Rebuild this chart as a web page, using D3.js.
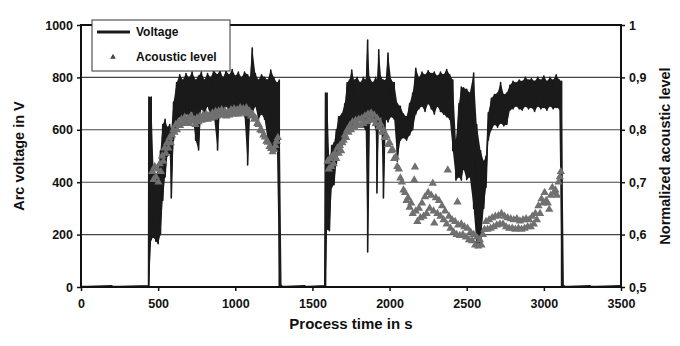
<!DOCTYPE html>
<html>
<head>
<meta charset="utf-8">
<script src="https://cdn.jsdelivr.net/npm/d3@7"></script>
<style>
    body { margin: 0; background: #ffffff; }
    svg { display: block; font-family: "Liberation Sans", Arial, sans-serif; font-weight: bold; }
</style>
</head>
<body>
<div id="chart-container"></div>
<script>
// tick values for the three axes
const TIME_TICKS = [0, 500, 1000, 1500, 2000, 2500, 3000, 3500];
const VOLTAGE_TICKS = [0, 200, 400, 600, 800, 1000];
const ACOUSTIC_TICKS = [0.5, 0.6, 0.7, 0.8, 0.9, 1];

// legend entries
const SERIES_NAMES = ["Voltage", "Acoustic level"];

// arc voltage: [time s, band max V, band min V]
const VOLTAGE_SAMPLES = [
    [0, 5, 0], [200, 5, 0], [438, 5, 0],
    [440, 725, 0], [455, 725, 180], [470, 450, 190], [485, 430, 175], [500, 440, 165],
    [515, 520, 200], [530, 620, 330], [545, 640, 420], [560, 610, 500], [575, 620, 510],
    [585, 600, 340], [600, 706, 560], [620, 780, 620], [640, 810, 650], [660, 790, 640],
    [680, 815, 660], [700, 800, 650], [720, 820, 670], [743, 790, 560], [762, 805, 523],
    [780, 820, 680], [800, 790, 660], [820, 815, 690], [840, 800, 650], [860, 825, 660],
    [885, 810, 523], [900, 830, 680], [920, 800, 660], [940, 825, 690], [960, 810, 670],
    [980, 830, 680], [1000, 805, 660], [1020, 820, 690], [1040, 800, 670], [1060, 820, 650],
    [1080, 810, 466], [1095, 800, 650], [1110, 912, 660], [1130, 815, 690], [1150, 790, 640],
    [1170, 810, 660], [1190, 800, 640], [1210, 790, 560], [1230, 828, 523], [1250, 800, 530],
    [1270, 780, 520], [1285, 790, 0],
    [1300, 5, 0], [1450, 5, 0], [1580, 5, 0],
    [1585, 740, 0], [1595, 740, 220], [1610, 470, 215], [1625, 540, 380], [1640, 550, 390],
    [1655, 600, 470], [1670, 650, 520], [1690, 660, 540], [1710, 700, 560], [1725, 780, 600],
    [1740, 790, 620], [1755, 828, 600], [1770, 790, 640], [1790, 800, 620], [1810, 780, 650],
    [1830, 800, 610], [1845, 790, 600], [1858, 943, 134], [1870, 800, 620], [1890, 780, 640],
    [1910, 800, 600], [1918, 790, 359], [1930, 905, 620], [1945, 800, 650], [1960, 790, 340],
    [1975, 790, 640], [1990, 893, 630], [2010, 790, 650], [2030, 780, 640], [2050, 700, 480],
    [2070, 690, 560], [2090, 660, 570], [2110, 650, 560], [2130, 700, 580], [2150, 740, 600],
    [2170, 835, 660], [2190, 800, 680], [2210, 820, 690], [2230, 810, 670], [2250, 825, 700],
    [2270, 815, 680], [2290, 820, 660], [2310, 805, 690], [2330, 820, 670], [2350, 810, 660],
    [2370, 830, 650], [2390, 810, 640], [2410, 790, 520], [2430, 560, 408], [2450, 700, 420],
    [2465, 763, 408], [2480, 760, 450], [2500, 755, 410], [2520, 740, 420], [2545, 817, 300],
    [2565, 620, 150], [2590, 520, 170], [2610, 480, 300], [2625, 500, 380], [2640, 665, 560],
    [2660, 720, 600], [2680, 735, 620], [2700, 740, 610], [2720, 780, 625], [2740, 735, 615],
    [2760, 740, 620], [2780, 770, 675], [2800, 785, 680], [2820, 780, 690], [2840, 790, 680],
    [2860, 785, 675], [2880, 800, 690], [2900, 790, 680], [2920, 795, 685], [2940, 785, 670],
    [2960, 800, 690], [2980, 790, 680], [3000, 805, 685], [3020, 785, 675], [3040, 800, 690],
    [3060, 790, 680], [3080, 810, 685], [3100, 790, 680], [3115, 785, 0],
    [3130, 5, 0], [3300, 5, 0], [3500, 5, 0],
];

// normalized acoustic level: [time s, level]
const ACOUSTIC_SAMPLES = [
    [462, 0.72], [470, 0.705], [478, 0.73], [486, 0.71], [494, 0.725], [502, 0.70], [510, 0.735],
    [518, 0.72], [526, 0.75], [534, 0.74], [542, 0.765], [550, 0.755], [558, 0.775], [566, 0.765],
    [574, 0.785], [582, 0.775], [590, 0.79], [598, 0.80], [606, 0.795], [614, 0.81], [622, 0.80],
    [632, 0.815], [642, 0.808], [652, 0.82], [662, 0.812], [672, 0.824], [682, 0.815], [692, 0.822],
    [702, 0.812], [712, 0.826], [722, 0.816], [732, 0.82], [742, 0.81], [752, 0.823], [762, 0.815],
    [772, 0.826], [782, 0.818], [792, 0.828], [802, 0.82], [812, 0.83], [822, 0.82], [832, 0.828],
    [842, 0.822], [852, 0.832], [862, 0.824], [872, 0.835], [882, 0.826], [892, 0.836], [902, 0.828],
    [912, 0.838], [922, 0.828], [932, 0.836], [942, 0.826], [952, 0.834], [962, 0.828], [972, 0.838],
    [982, 0.83], [992, 0.84], [1002, 0.83], [1012, 0.838], [1022, 0.83], [1032, 0.842], [1042, 0.832],
    [1052, 0.84], [1062, 0.834], [1072, 0.842], [1082, 0.83], [1092, 0.836], [1102, 0.826], [1112, 0.83],
    [1122, 0.82], [1132, 0.822], [1142, 0.812], [1152, 0.81], [1162, 0.80], [1172, 0.798], [1182, 0.79],
    [1192, 0.786], [1202, 0.778], [1212, 0.776], [1222, 0.768], [1232, 0.764], [1242, 0.758],
    [1252, 0.762], [1260, 0.77], [1268, 0.778], [1276, 0.785],
    [1598, 0.74], [1606, 0.725], [1614, 0.745], [1622, 0.73], [1630, 0.75], [1638, 0.735], [1646, 0.755],
    [1654, 0.745], [1662, 0.765], [1670, 0.755], [1678, 0.77], [1686, 0.76], [1694, 0.775], [1702, 0.78],
    [1710, 0.79], [1718, 0.785], [1726, 0.80], [1734, 0.795], [1742, 0.808], [1750, 0.80], [1760, 0.815],
    [1770, 0.806], [1780, 0.818], [1790, 0.81], [1800, 0.82], [1810, 0.808], [1820, 0.822], [1830, 0.812],
    [1840, 0.826], [1850, 0.815], [1860, 0.83], [1870, 0.82], [1880, 0.832], [1890, 0.818], [1900, 0.828],
    [1910, 0.812], [1920, 0.822], [1930, 0.805], [1940, 0.812], [1950, 0.795], [1960, 0.80], [1970, 0.785],
    [1980, 0.788], [1990, 0.772], [2000, 0.775], [2010, 0.76], [2020, 0.762], [2030, 0.745], [2040, 0.748],
    [2050, 0.73], [2060, 0.725], [2070, 0.708], [2080, 0.70], [2090, 0.685], [2100, 0.68], [2110, 0.665],
    [2120, 0.67], [2130, 0.652], [2140, 0.66], [2150, 0.64], [2160, 0.704], [2165, 0.729], [2170, 0.645],
    [2180, 0.625], [2190, 0.65], [2200, 0.632], [2210, 0.66], [2220, 0.635], [2230, 0.672], [2240, 0.64],
    [2250, 0.68], [2260, 0.65], [2270, 0.675], [2280, 0.698], [2285, 0.645], [2290, 0.622], [2300, 0.67],
    [2310, 0.64], [2320, 0.665], [2330, 0.635], [2340, 0.655], [2350, 0.628], [2360, 0.645], [2370, 0.62],
    [2377, 0.723], [2385, 0.635], [2395, 0.612], [2405, 0.628], [2415, 0.605], [2425, 0.625], [2435, 0.60],
    [2440, 0.662], [2445, 0.618], [2455, 0.598], [2465, 0.62], [2475, 0.60], [2485, 0.615], [2495, 0.595],
    [2505, 0.612], [2515, 0.59], [2525, 0.605], [2535, 0.588], [2545, 0.60], [2555, 0.58], [2565, 0.595],
    [2575, 0.578], [2585, 0.59], [2595, 0.58], [2605, 0.60], [2615, 0.61], [2625, 0.625], [2635, 0.61],
    [2645, 0.628], [2655, 0.612], [2665, 0.632], [2675, 0.615], [2685, 0.635], [2695, 0.618], [2705, 0.636],
    [2715, 0.62], [2725, 0.64], [2735, 0.62], [2745, 0.635], [2755, 0.615], [2765, 0.632], [2775, 0.612],
    [2785, 0.63], [2795, 0.612], [2805, 0.628], [2815, 0.61], [2825, 0.63], [2835, 0.612], [2845, 0.626],
    [2855, 0.61], [2865, 0.628], [2875, 0.612], [2885, 0.63], [2895, 0.615], [2905, 0.628], [2915, 0.615],
    [2925, 0.635], [2935, 0.62], [2945, 0.64], [2955, 0.628], [2965, 0.655], [2975, 0.64], [2985, 0.668],
    [2995, 0.66], [3005, 0.68], [3015, 0.665], [3025, 0.66], [3035, 0.648], [3045, 0.675], [3055, 0.69],
    [3065, 0.68], [3075, 0.685], [3085, 0.675], [3095, 0.70], [3103, 0.71], [3110, 0.72],
];

function drawChart() {
    // set chart dimensions
    const width = 680;
    const height = 346;
    const plot = { left: 81, right: 621, top: 25, bottom: 287 };

    // appending svg tag for chart
    const chart = d3.select("#chart-container")
        .append("svg")
        .attr("width", width)
        .attr("height", height);

    // create scales
    const x = d3.scaleLinear().domain([0, 3500]).range([plot.left, plot.right]);
    const y = d3.scaleLinear().domain([0, 1000]).range([plot.bottom, plot.top]);
    const y2 = d3.scaleLinear().domain([0.5, 1]).range([plot.bottom, plot.top]);

    // horizontal grid lines
    chart.append("g")
        .selectAll("line")
        .data(VOLTAGE_TICKS.slice(1, -1))
        .enter()
        .append("line")
        .attr("x1", plot.left)
        .attr("x2", plot.right)
        .attr("y1", (d) => y(d))
        .attr("y2", (d) => y(d))
        .attr("stroke", "#444")
        .attr("stroke-width", 1.1);

    // voltage band between min and max
    const band = d3.area()
        .x((d) => x(d[0]))
        .y0((d) => y(d[2]))
        .y1((d) => y(d[1]));
    chart.append("path")
        .datum(VOLTAGE_SAMPLES)
        .attr("d", band)
        .attr("fill", "#1c1c1c");

    // voltage trace zigzag max -> min per sample
    const zigzag = VOLTAGE_SAMPLES.flatMap((d) => [[d[0], d[1]], [d[0], d[2]]]);
    const line = d3.line()
        .x((d) => x(d[0]))
        .y((d) => y(d[1]));
    chart.append("path")
        .datum(zigzag)
        .attr("d", line)
        .attr("fill", "none")
        .attr("stroke", "#1a1a1a")
        .attr("stroke-width", 1.6)
        .attr("stroke-linejoin", "round");

    // acoustic level triangles on top of the voltage
    const triangle = d3.symbol().type(d3.symbolTriangle).size(30);
    chart.append("g")
        .selectAll("path")
        .data(ACOUSTIC_SAMPLES)
        .enter()
        .append("path")
        .attr("d", triangle)
        .attr("transform", (d) => `translate(${x(d[0])},${y2(d[1])})`)
        .attr("fill", "#707070");

    // plot frame
    chart.append("rect")
        .attr("x", plot.left)
        .attr("y", plot.top)
        .attr("width", plot.right - plot.left)
        .attr("height", plot.bottom - plot.top)
        .attr("fill", "none")
        .attr("stroke", "#111")
        .attr("stroke-width", 2);

    // bottom axis
    chart.append("g")
        .attr("transform", `translate(0,${plot.bottom})`)
        .call(d3.axisBottom(x).tickValues(TIME_TICKS).tickSize(4).tickFormat(d3.format("d")))
        .call((g) => g.select(".domain").remove())
        .call((g) => g.selectAll("line").attr("stroke", "#111").attr("stroke-width", 1.5))
        .call((g) => g.selectAll("text").attr("dy", "0.71em").attr("y", 12)
            .attr("font-size", "12.5px").attr("fill", "#111").attr("font-family", null));

    // left axis
    chart.append("g")
        .attr("transform", `translate(${plot.left},0)`)
        .call(d3.axisLeft(y).tickValues(VOLTAGE_TICKS).tickSize(4).tickFormat(d3.format("d")))
        .call((g) => g.select(".domain").remove())
        .call((g) => g.selectAll("line").attr("stroke", "#111").attr("stroke-width", 1.5))
        .call((g) => g.selectAll("text").attr("x", -8)
            .attr("font-size", "12.5px").attr("fill", "#111").attr("font-family", null));

    // right axis
    chart.append("g")
        .attr("transform", `translate(${plot.right},0)`)
        .call(d3.axisRight(y2).tickValues(ACOUSTIC_TICKS).tickSize(4)
            .tickFormat((d) => String(d).replace(".", ",")))
        .call((g) => g.select(".domain").remove())
        .call((g) => g.selectAll("line").attr("stroke", "#111").attr("stroke-width", 1.5))
        .call((g) => g.selectAll("text").attr("x", 8)
            .attr("font-size", "12.5px").attr("fill", "#111").attr("font-family", null));

    // axis titles
    chart.append("text")
        .attr("x", (plot.left + plot.right) / 2)
        .attr("y", 329)
        .attr("text-anchor", "middle")
        .attr("font-size", "15px")
        .attr("fill", "#111")
        .text("Process time in s");

    chart.append("text")
        .attr("transform", `translate(24,${(plot.top + plot.bottom) / 2}) rotate(-90)`)
        .attr("text-anchor", "middle")
        .attr("font-size", "14.5px")
        .attr("fill", "#111")
        .text("Arc voltage in V");

    chart.append("text")
        .attr("transform", `translate(670,${(plot.top + plot.bottom) / 2}) rotate(-90)`)
        .attr("text-anchor", "middle")
        .attr("font-size", "14.5px")
        .attr("fill", "#111")
        .text("Normalized acoustic level");

    // legend box
    const legend = chart.append("g").attr("transform", "translate(92,20)");
    legend.append("rect")
        .attr("width", 138)
        .attr("height", 51)
        .attr("fill", "#fff")
        .attr("stroke", "#333")
        .attr("stroke-width", 1);

    legend.append("line")
        .attr("x1", 5)
        .attr("x2", 38)
        .attr("y1", 12)
        .attr("y2", 12)
        .attr("stroke", "#1a1a1a")
        .attr("stroke-width", 3);

    legend.append("path")
        .attr("d", d3.symbol().type(d3.symbolTriangle).size(14))
        .attr("transform", "translate(21,37)")
        .attr("fill", "#444");

    legend.selectAll("text")
        .data(SERIES_NAMES)
        .enter()
        .append("text")
        .attr("x", 44)
        .attr("y", (d, i) => 12 + i * 25)
        .attr("dy", "0.35em")
        .attr("font-size", "12px")
        .attr("fill", "#111")
        .text((d) => d);
}

window.onload = () => {
    drawChart();
};
</script>
</body>
</html>
